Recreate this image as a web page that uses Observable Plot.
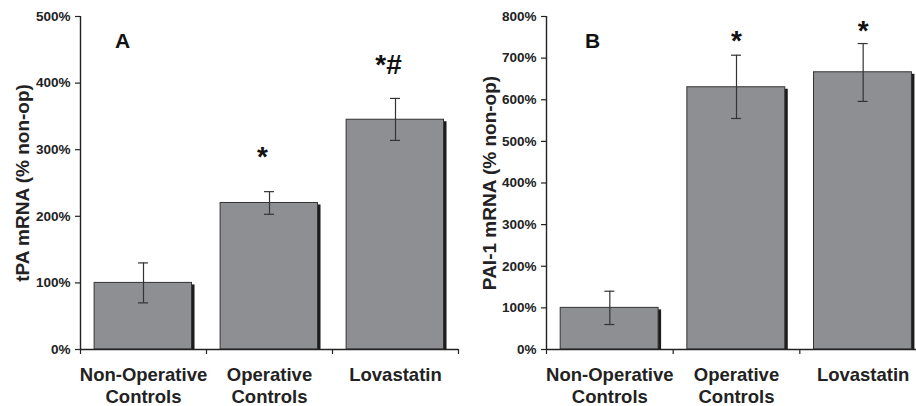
<!DOCTYPE html>
<html><head><meta charset="utf-8">
<script src="https://cdn.jsdelivr.net/npm/d3@7"></script>
<script src="https://cdn.jsdelivr.net/npm/@observablehq/plot@0.6"></script>
<style>
html,body{margin:0;padding:0;background:#fff;overflow:hidden;width:916px;height:406px}
#wrap{display:flex;flex-wrap:nowrap;width:916px;overflow:hidden}
#wrap>*{flex:none}
#wrap svg g[aria-label="y-axis tick label"], #wrap svg g[aria-label="y-axis tick label"] text{font-size:13.5px !important;font-weight:bold !important;fill:#222}
</style></head><body><div id="wrap"></div>
<script>
const categories = ["Non-Operative\nControls", "Operative\nControls", "Lovastatin"];
const tpaMean = [100, 220, 345];
const tpaLow = [70, 203, 314];
const tpaHigh = [130, 237, 377];
const paiMean = [100, 630, 666];
const paiLow = [60, 555, 596];
const paiHigh = [140, 707, 735];
const tpaTicks = [0, 100, 200, 300, 400, 500];
const paiTicks = [0, 100, 200, 300, 400, 500, 600, 700, 800];
const tpaMarks = ["", "*", "*#"];
const tpaMarkY = [null, 276, 414];
const paiMarks = ["", "*", "*"];
const paiMarkY = [null, 720, 744];

function panel({mean, low, high, ticks, yMax, title, letter, marks, markY, width, marginLeft, letterDx, titleDx, markDx}) {
  const rows = categories.map((c, i) => ({c, i, mean: mean[i], low: low[i], high: high[i], mark: marks[i], markY: markY[i]}));
  const bx1 = d => d.i + 0.112, bx2 = d => d.i + 0.885, cx = d => d.i + 0.5;
  return Plot.plot({
    width, height: 406, marginLeft, marginRight: 0, marginTop: 16, marginBottom: 57,
    style: {fontFamily: "'Liberation Sans', Arial, sans-serif", fontSize: "13.5px", fontWeight: "bold", background: "transparent", color: "#222", overflow: "visible"},
    x: {domain: [0, 3], axis: null},
    y: {domain: [0, yMax], axis: null},
    marks: [
      Plot.rectY(rows, {x1: bx1, x2: bx2, y1: 0, y2: "mean", fill: "#1c1c1c", dx: 3, insetTop: 2}),
      Plot.rectY(rows, {x1: bx1, x2: bx2, y1: 0, y2: "mean", fill: "#8e8f93", stroke: "#333", strokeWidth: 1}),
      Plot.ruleX(rows, {x: cx, y1: "low", y2: "high", stroke: "#333", strokeWidth: 1.2}),
      Plot.ruleY(rows, {x1: cx, x2: cx, y: "high", insetLeft: -5, insetRight: -5, stroke: "#333", strokeWidth: 1.2}),
      Plot.ruleY(rows, {x1: cx, x2: cx, y: "low", insetLeft: -5, insetRight: -5, stroke: "#333", strokeWidth: 1.2}),
      Plot.ruleY([0], {stroke: "#222", strokeWidth: 1.4}),
      Plot.ruleX([0], {stroke: "#222", strokeWidth: 1.4}),
      Plot.axisY({ticks, tickFormat: d => d + "%", tickSize: 5, tickPadding: 5, label: null, strokeWidth: 1.2, fontSize: 13.5, fontWeight: "bold"}),
      Plot.axisX({ticks: [0, 1, 2, 3], tickFormat: () => "", tickSize: 5, label: null, strokeWidth: 1.2}),
      Plot.text(rows, {x: cx, y: 0, text: "c", lineAnchor: "top", dy: 16, fontSize: 18.5, fontWeight: "bold", lineHeight: 1.19, fill: "#222"}),
      Plot.text(rows.filter(d => d.mark), {x: cx, y: "markY", text: "mark", lineAnchor: "bottom", dx: markDx, fontSize: 28, fontWeight: "bold", fill: "#111"}),
      Plot.text([letter], {frameAnchor: "top-left", text: d => d, dx: letterDx, dy: 31, lineAnchor: "bottom", textAnchor: "middle", fontSize: 21, fontWeight: "bold", fill: "#111"}),
      Plot.text([title], {frameAnchor: "left", text: d => d, rotate: -90, textAnchor: "middle", lineAnchor: "middle", dx: titleDx, fontSize: 19, fontWeight: "bold", fill: "#222"})
    ]
  });
}

const wrap = document.getElementById("wrap");
wrap.append(panel({mean: tpaMean, low: tpaLow, high: tpaHigh, ticks: tpaTicks, yMax: 500, title: "tPA mRNA (% non-op)", letter: "A", marks: tpaMarks, markY: tpaMarkY, width: 458, marginLeft: 80, letterDx: 42, titleDx: -58, markDx: -7}));
wrap.append(panel({mean: paiMean, low: paiLow, high: paiHigh, ticks: paiTicks, yMax: 800, title: "PAI-1 mRNA (% non-op)", letter: "B", marks: paiMarks, markY: paiMarkY, width: 468, marginLeft: 88, letterDx: 46, titleDx: -57, markDx: 0}));
</script></body></html>
